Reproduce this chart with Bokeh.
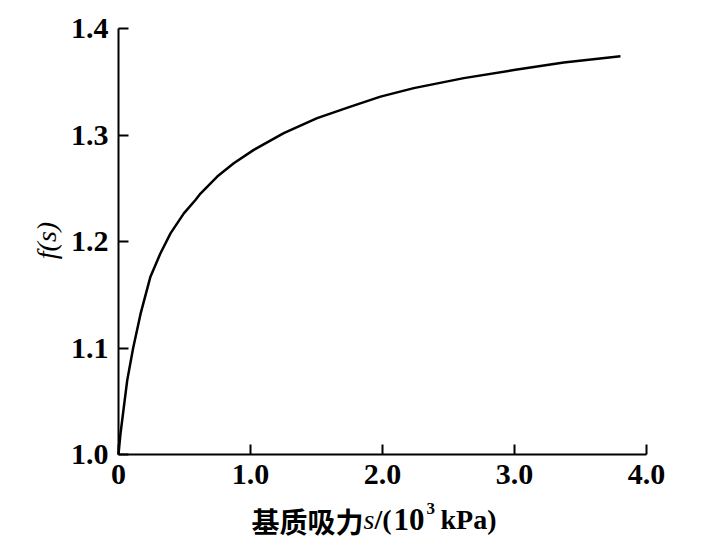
import math
from bokeh.plotting import figure
from bokeh.models import Range1d, FixedTicker, CustomJSTickFormatter, Label
from bokeh.embed import file_html
from bokeh.resources import INLINE

# matric suction s (10^3 kPa) and f(s)
s_vals = [0.0, 0.015, 0.066, 0.111, 0.167, 0.242, 0.318, 0.394, 0.495, 0.583,
          0.621, 0.748, 0.873, 1.025, 1.252, 1.505, 1.758, 1.985, 2.237,
          2.616, 2.995, 3.373, 3.803]
f_vals = [1.0, 1.0195, 1.0696, 1.100, 1.132, 1.167, 1.189, 1.2076, 1.2264, 1.239,
          1.245, 1.261, 1.2735, 1.286, 1.3017, 1.3158, 1.3267, 1.336, 1.344,
          1.3534, 1.361, 1.368, 1.374]
x_ticks = [0, 1, 2, 3, 4]
y_ticks = [1.0, 1.1, 1.2, 1.3, 1.4]

W, H = 702, 537
# the frame fills the whole canvas; axes are pinned at x=0 / y=1.0 with bounds
XPX = 132.0     # pixels per unit of s
YPX = 1065.0    # pixels per unit of f
x0_pix, y0_pix = 118, 454   # canvas position of the origin (0, 1.0)
x_range = Range1d(-x0_pix / XPX, (W - x0_pix) / XPX)
y_range = Range1d(1.0 - (H - y0_pix) / YPX, 1.0 + y0_pix / YPX)

p = figure(width=W, height=H, output_backend="svg", toolbar_location=None,
           x_range=x_range, y_range=y_range, min_border=0,
           min_border_left=0, min_border_right=0, min_border_top=0,
           min_border_bottom=0)
p.outline_line_color = None
p.xgrid.visible = False
p.ygrid.visible = False
p.background_fill_color = "white"
p.border_fill_color = "white"

p.line(s_vals, f_vals, line_color="black", line_width=2.5)

for ax in (p.xaxis[0], p.yaxis[0]):
    ax.axis_line_width = 2
    ax.axis_line_color = "black"
    ax.major_tick_in = 10
    ax.major_tick_out = 0
    ax.major_tick_line_width = 2
    ax.major_tick_line_color = "black"
    ax.minor_tick_line_color = None
    ax.major_label_text_font = "Liberation Serif"
    ax.major_label_text_font_style = "bold"
    ax.major_label_text_font_size = "30px"
    ax.major_label_text_color = "black"

p.xaxis[0].fixed_location = 1.0
p.yaxis[0].fixed_location = 0
p.xaxis[0].bounds = (0, 4)
p.yaxis[0].bounds = (1.0, 1.4)
p.xaxis[0].ticker = FixedTicker(ticks=x_ticks)
p.yaxis[0].ticker = FixedTicker(ticks=y_ticks)
p.xaxis[0].formatter = CustomJSTickFormatter(code="return tick == 0 ? '0' : tick.toFixed(1);")
p.yaxis[0].formatter = CustomJSTickFormatter(code="return tick.toFixed(1);")
p.xaxis[0].major_label_standoff = 10
p.yaxis[0].major_label_standoff = 10

# labels in screen units relative to the frame (= canvas), bottom-left origin
def lab(x, y, text, font, style, size, **kw):
    p.add_layout(Label(x=x, y=H - y,
                       x_units="screen", y_units="screen",
                       text=text, text_font=font, text_font_style=style,
                       text_font_size=size, text_color="black",
                       text_baseline=kw.pop("baseline", "alphabetic"),
                       text_align=kw.pop("align", "left"), **kw))

base = 519
lab(251, base + 1, "基质吸力", "Noto Sans CJK SC", "bold", "28px")
lab(363, base, "s", "Liberation Serif", "italic", "28px")
lab(374, base, "/(", "Liberation Serif", "bold", "28px")
lab(393, base, "10", "Liberation Serif", "bold", "31px")
lab(426, base - 11, "3", "Liberation Serif", "bold", "17px")
lab(440, base, "kPa)", "Liberation Serif", "bold", "28px")

# y axis label
lab(46, 240, "f(s)", "Liberation Serif", "italic", "28px",
    baseline="middle", align="center", angle=math.pi / 2)

open("out.html", "w").write(file_html(p, INLINE))
